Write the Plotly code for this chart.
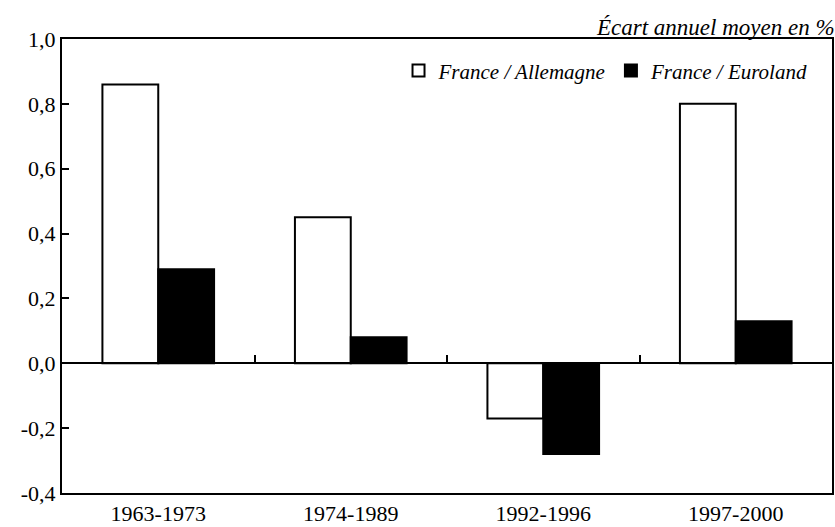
import plotly.graph_objects as go

categories = ["1963-1973", "1974-1989", "1992-1996", "1997-2000"]
france_allemagne = [0.86, 0.45, -0.17, 0.80]
france_euroland = [0.29, 0.08, -0.28, 0.13]
y_ticks = [-0.4, -0.2, 0.0, 0.2, 0.4, 0.6, 0.8, 1.0]
y_tick_labels = ["-0,4", "-0,2", "0,0", "0,2", "0,4", "0,6", "0,8", "1,0"]
y_min, y_max = -0.4, 1.0

serif = "Liberation Serif, Times New Roman, serif"
FS = 22

fig = go.Figure()
fig.add_trace(go.Bar(
    name="France / Allemagne", x=list(range(len(categories))), y=france_allemagne,
    marker=dict(color="white", line=dict(color="black", width=2)),
))
fig.add_trace(go.Bar(
    name="France / Euroland", x=list(range(len(categories))), y=france_euroland,
    marker=dict(color="black", line=dict(color="black", width=2)),
))
# invisible trace for the zero axis with boundary ticks
fig.add_trace(go.Scatter(x=[0], y=[0], xaxis="x2", mode="markers",
                         marker=dict(opacity=0), showlegend=False, hoverinfo="skip"))

zero_pos = (0 - y_min) / (y_max - y_min)
boundaries = [i + 0.5 for i in range(len(categories) - 1)]

fig.update_layout(
    width=835, height=527,
    margin=dict(l=62, r=1, t=39, b=29),
    paper_bgcolor="white", plot_bgcolor="white",
    separators=", ",
    barmode="group", bargap=0.42, bargroupgap=0,
    font=dict(family=serif, size=FS, color="black"),
    showlegend=True,
    legend=dict(orientation="h", x=0.976, xanchor="right", y=0.93, yanchor="middle",
                font=dict(family=serif, size=21, style="italic"),
                bgcolor="rgba(0,0,0,0)", itemwidth=30, traceorder="normal"),
    xaxis=dict(range=[-0.5, len(categories) - 0.5], tickmode="array",
               tickvals=list(range(len(categories))), ticktext=categories,
               showline=True, linecolor="black", linewidth=2, mirror=True,
               ticks="", showgrid=False, zeroline=False, ticklabelstandoff=0,
               tickfont=dict(family=serif, size=FS)),
    xaxis2=dict(overlaying="x", anchor="free", position=zero_pos,
                range=[-0.5, len(categories) - 0.5], tickmode="array",
                tickvals=boundaries, ticktext=["" for _ in boundaries],
                ticks="inside", ticklen=7, tickwidth=2, tickcolor="black",
                showline=True, linecolor="black", linewidth=2,
                showgrid=False, zeroline=False, side="bottom"),
    yaxis=dict(range=[y_min, y_max], tickmode="array", tickvals=y_ticks,
               ticktext=y_tick_labels,
               ticks="inside", ticklen=7, tickwidth=2, tickcolor="black",
               showline=True, linecolor="black", linewidth=2, mirror=True,
               showgrid=False, zeroline=False,
               tickfont=dict(family=serif, size=FS)),
    annotations=[dict(text="Écart annuel moyen en %", xref="paper", yref="paper",
                      x=1.0, y=1.0, xanchor="right", yanchor="bottom", yshift=-3, xshift=5,
                      showarrow=False,
                      font=dict(family=serif, size=23, style="italic"))],
)

fig.write_html("out.html", config={"displayModeBar": False})
with open("out.html", encoding="utf-8") as f:
    html = f.read()
html = html.replace("<head>", "<head><style>html,body{margin:0;padding:0;overflow:hidden;}</style>", 1)
with open("out.html", "w", encoding="utf-8") as f:
    f.write(html)
